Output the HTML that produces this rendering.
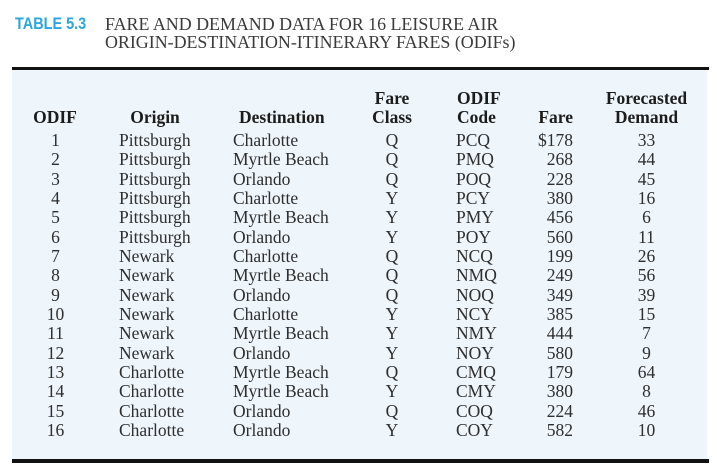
<!DOCTYPE html>
<html>
<head>
<meta charset="utf-8">
<style>
  html,body{margin:0;padding:0;background:#fff;}
  body{width:717px;height:465px;position:relative;overflow:hidden;font-family:"Liberation Serif",serif;}
  .abs{position:absolute;white-space:nowrap;}
  .tag{font-family:"Liberation Sans",sans-serif;font-weight:bold;font-size:17px;color:#2aa6df;left:15px;top:14px;line-height:20px;transform:scaleX(0.85);transform-origin:left top;}
  .title{left:105px;top:14.5px;font-size:17.9px;line-height:18px;color:#3a3a3a;}
  .bg{left:12px;top:70px;width:695px;height:389px;background:#eef5fb;}
  .rule{left:12px;width:697px;background:#111;}
  .hd{font-weight:bold;font-size:17.5px;line-height:18.5px;color:#1c1c1c;top:89px;}
  .col{font-size:17.5px;line-height:19.33px;color:#2e2e2e;top:131px;}
  .c{text-align:center;}
  .r{text-align:right;}
</style>
</head>
<body>
<div class="abs tag">TABLE 5.3</div>
<div class="abs title">FARE AND DEMAND DATA FOR 16 LEISURE AIR<br>ORIGIN-DESTINATION-ITINERARY FARES (ODIFs)</div>

<div class="abs bg"></div>
<div class="abs rule" style="top:67px;height:3px;"></div>
<div class="abs rule" style="top:459px;height:3.5px;"></div>

<!-- headers -->
<div class="abs hd c" style="left:15px;width:80px;"><br>ODIF</div>
<div class="abs hd c" style="left:115px;width:80px;"><br>Origin</div>
<div class="abs hd" style="left:239px;"><br>Destination</div>
<div class="abs hd c" style="left:352px;width:80px;">Fare<br>Class</div>
<div class="abs hd" style="left:457px;">ODIF<br>Code</div>
<div class="abs hd r" style="left:513px;width:60px;"><br>Fare</div>
<div class="abs hd c" style="left:596.5px;width:100px;">Forecasted<br>Demand</div>

<!-- data -->
<div class="abs col c" style="left:25.5px;width:60px;">1<br>2<br>3<br>4<br>5<br>6<br>7<br>8<br>9<br>10<br>11<br>12<br>13<br>14<br>15<br>16</div>
<div class="abs col" style="left:119px;">Pittsburgh<br>Pittsburgh<br>Pittsburgh<br>Pittsburgh<br>Pittsburgh<br>Pittsburgh<br>Newark<br>Newark<br>Newark<br>Newark<br>Newark<br>Newark<br>Charlotte<br>Charlotte<br>Charlotte<br>Charlotte</div>
<div class="abs col" style="left:233px;">Charlotte<br>Myrtle Beach<br>Orlando<br>Charlotte<br>Myrtle Beach<br>Orlando<br>Charlotte<br>Myrtle Beach<br>Orlando<br>Charlotte<br>Myrtle Beach<br>Orlando<br>Myrtle Beach<br>Myrtle Beach<br>Orlando<br>Orlando</div>
<div class="abs col c" style="left:362px;width:60px;">Q<br>Q<br>Q<br>Y<br>Y<br>Y<br>Q<br>Q<br>Q<br>Y<br>Y<br>Y<br>Q<br>Y<br>Q<br>Y</div>
<div class="abs col" style="left:456px;">PCQ<br>PMQ<br>POQ<br>PCY<br>PMY<br>POY<br>NCQ<br>NMQ<br>NOQ<br>NCY<br>NMY<br>NOY<br>CMQ<br>CMY<br>COQ<br>COY</div>
<div class="abs col r" style="left:503px;width:70px;">$178<br>268<br>228<br>380<br>456<br>560<br>199<br>249<br>349<br>385<br>444<br>580<br>179<br>380<br>224<br>582</div>
<div class="abs col c" style="left:606.5px;width:80px;">33<br>44<br>45<br>16<br>6<br>11<br>26<br>56<br>39<br>15<br>7<br>9<br>64<br>8<br>46<br>10</div>
</body>
</html>
